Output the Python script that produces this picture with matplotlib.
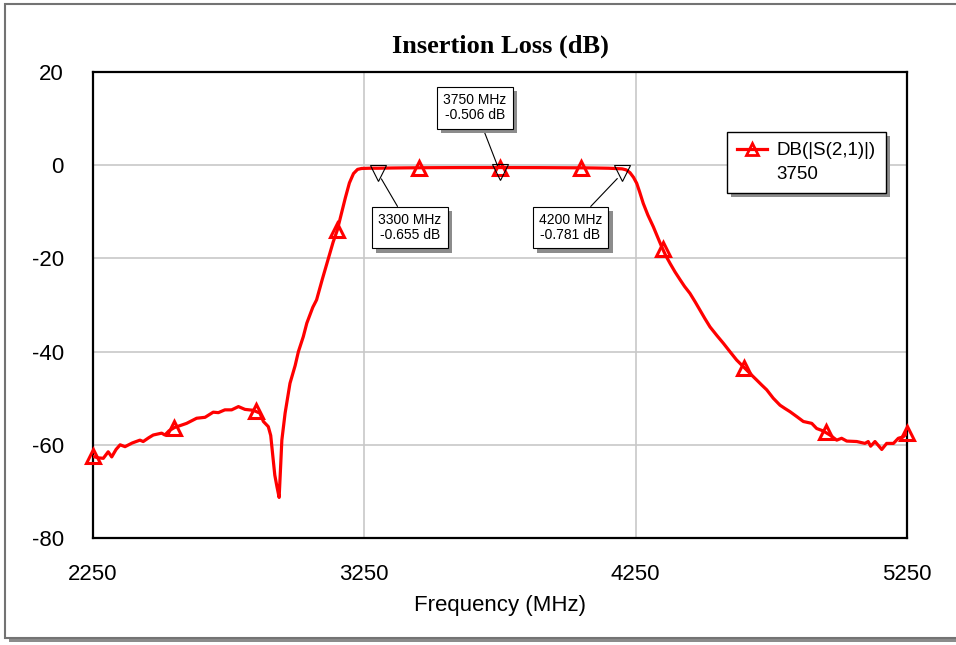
import matplotlib
matplotlib.use("Agg")
import matplotlib.pyplot as plt
import matplotlib.patheffects as pe
import numpy as np
from matplotlib.lines import Line2D
from matplotlib.patches import Rectangle

# S21 of the filter
freq_mhz = [2250, 2270, 2288, 2306, 2319, 2335, 2350, 2368, 2395, 2423, 2435, 2455,
            2472, 2503, 2515, 2530, 2550, 2575, 2595, 2632, 2663, 2693, 2712, 2736,
            2761, 2786, 2810, 2841, 2865, 2878, 2896, 2905, 2912, 2920, 2928, 2936,
            2942, 2946, 2958, 2976, 2995, 3007, 3025, 3038, 3060, 3074, 3095, 3115,
            3135, 3150, 3165, 3180, 3195, 3210, 3225, 3240, 3270, 3300, 3350, 3400,
            3450, 3500, 3600, 3700, 3750, 3800, 3900, 4000, 4050, 4100, 4150, 4200,
            4215, 4229, 4242, 4254, 4265, 4278, 4295, 4315, 4330, 4343, 4360, 4377,
            4395, 4414, 4430, 4450, 4470, 4487, 4505, 4524, 4550, 4573, 4600, 4622,
            4653, 4675, 4696, 4715, 4733, 4757, 4782, 4800, 4819, 4845, 4868, 4899,
            4917, 4940, 4966, 4991, 5009, 5028, 5065, 5095, 5107, 5116, 5132, 5157,
            5175, 5200, 5218, 5236, 5250]
s21_db = [-62.5, -62.8, -62.9, -61.5, -62.6, -61.0, -60.0, -60.4, -59.6, -59.0, -59.3, -58.5,
          -57.9, -57.5, -57.9, -57.0, -56.3, -55.8, -55.4, -54.3, -54.1, -53.0, -53.1, -52.5,
          -52.5, -51.8, -52.4, -52.6, -53.2, -55.0, -56.1, -58.0, -62.0, -66.5, -69.0, -71.3,
          -64.0, -59.0, -53.2, -46.8, -43.0, -40.0, -36.8, -33.9, -30.5, -28.9, -24.5, -20.5,
          -16.5, -14.0, -10.5, -7.0, -3.8, -1.8, -0.9, -0.7, -0.65, -0.655, -0.6, -0.57,
          -0.55, -0.53, -0.51, -0.505, -0.506, -0.51, -0.52, -0.55, -0.56, -0.6, -0.65, -0.781,
          -1.0, -1.6, -2.6, -3.9, -5.8, -8.2, -10.7, -13.2, -15.3, -17.1, -19.3, -21.1,
          -22.9, -24.6, -26.0, -27.5, -29.4, -31.1, -32.9, -34.7, -36.6, -38.2, -40.2, -41.8,
          -43.6, -44.9, -46.1, -47.2, -48.2, -50.0, -51.5, -52.2, -52.9, -54.0, -55.0, -55.4,
          -56.5, -57.0, -57.9, -59.0, -58.6, -59.2, -59.3, -59.7, -59.3, -60.3, -59.3, -61.0,
          -59.7, -59.7, -58.6, -58.3, -57.5]

# trace symbols every 300 MHz
symbol_freqs = [2250, 2550, 2850, 3150, 3450, 3750, 4050, 4350, 4650, 4950, 5250]

# marker readouts
marker_freqs = [3300, 3750, 4200]
marker_vals = [-0.655, -0.506, -0.781]
marker_label_pos = [(3418, -13.4), (3658, 12.3), (4010, -13.4)]

x_ticks = [2250, 3250, 4250, 5250]
y_ticks = [20, 0, -20, -40, -60, -80]

plt.rcParams['font.family'] = ['Liberation Sans', 'DejaVu Sans']
plt.rcParams['axes.unicode_minus'] = False

fig = plt.figure(figsize=(9.56, 6.45), dpi=100)
shadow = [pe.SimplePatchShadow(offset=(3, -3), shadow_rgbFace='0.55', alpha=1), pe.Normal()]

# outer frame of the graph window
frame = Rectangle((5 / 956, 1 - 638 / 645), 1.2, 634 / 645, transform=fig.transFigure,
                  facecolor='white', edgecolor='0.45', lw=1.5, zorder=-10)
frame.set_path_effects(shadow)
fig.patches.append(frame)

ax = fig.add_axes([93 / 956, 1 - 538 / 645, 814 / 956, 466 / 645])
ax.set_xlim(2250, 5250)
ax.set_ylim(-80, 20)
ax.set_xticks(x_ticks)
ax.set_yticks(y_ticks)
ax.tick_params(length=0, labelsize=16)
ax.tick_params(axis='y', pad=21)
ax.tick_params(axis='x', pad=19)
ax.grid(True, color='#c8c8c8', lw=1.2)
ax.set_axisbelow(True)
for s in ax.spines.values():
    s.set_linewidth(1.6)
    s.set_color('black')

ax.plot(freq_mhz, s21_db, color='red', lw=2.3, zorder=3)
sym_y = np.interp(symbol_freqs, freq_mhz, s21_db)
ax.plot(symbol_freqs, sym_y, ls='none', marker='^', ms=10, mew=2.2, mec='red',
        mfc='none', zorder=4, clip_on=False)

for f, v, pos in zip(marker_freqs, marker_vals, marker_label_pos):
    ax.plot(f, v - 1.0, marker='v', ms=11, mew=0.8, mec='black', mfc='none', zorder=5)
    t = ax.annotate(f"{f} MHz\n{v:.3f} dB", xy=(f, v - 1.0), xytext=pos,
                    ha='center', va='center', fontsize=10, linespacing=1.1, zorder=6,
                    bbox=dict(boxstyle='square,pad=0.45', fc='white', ec='black', lw=0.8),
                    arrowprops=dict(arrowstyle='-', color='black', lw=0.8, shrinkA=0, shrinkB=5))
    t.get_bbox_patch().set_path_effects(shadow)

handles = [Line2D([0], [0], color='red', lw=2.3, marker='^', ms=8, mew=2, mfc='none'),
           Line2D([0], [0], color='none')]
leg = ax.legend(handles, ['DB(|S(2,1)|)', '3750'], loc='upper left',
                bbox_to_anchor=(0.779, 0.872), fontsize=13.5, fancybox=False,
                framealpha=1, edgecolor='black', handlelength=1.6, handletextpad=0.5,
                labelspacing=0.35, borderpad=0.55, borderaxespad=0)
leg.get_frame().set_linewidth(1)
leg.get_frame().set_path_effects(shadow)
leg.set_zorder(7)

fig.text(500 / 956, 1 - 46 / 645, 'Insertion Loss (dB)', ha='center', va='center',
         fontsize=19, fontweight='bold', family=['Liberation Serif', 'DejaVu Serif'])
fig.text(500 / 956, 1 - 605 / 645, 'Frequency (MHz)', ha='center', va='center', fontsize=16)

fig.savefig('out.png', dpi=100)
